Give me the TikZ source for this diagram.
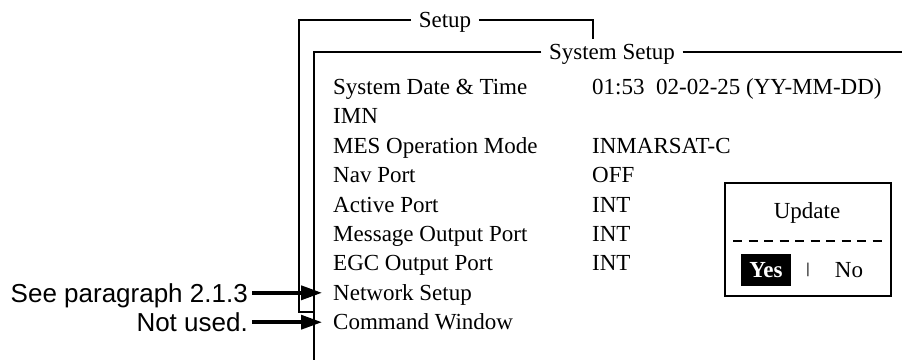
\documentclass[tikz,border=0pt]{standalone}
\usepackage{fontspec}
\setmainfont{Liberation Serif}
\newfontfamily\notefont{Liberation Sans}
\usepackage{tikz}
\usetikzlibrary{positioning, arrows.meta}

\begin{document}
\begin{tikzpicture}[
    x=1pt, y=-1pt,
    frame/.style={line width=1.3pt},
    title/.style={inner xsep=7.5pt, inner ysep=0pt, text height=15pt, text depth=0pt, font=\fontsize{23}{27}\selectfont},
    item/.style={anchor=west, inner sep=0pt, text height=15pt, text depth=0pt, font=\fontsize{23}{27}\selectfont},
    note/.style={inner xsep=4pt, inner ysep=0pt, text height=18.6pt, text depth=0pt, font=\notefont\fontsize{26}{30}\selectfont},
    pointer/.style={-{Triangle[length=21pt, width=14pt]}, line width=3.5pt, shorten >=11pt},
    popup/.style={draw, line width=1.5pt, minimum width=166pt, minimum height=113pt}
]
\useasboundingbox (0,0) rectangle (902,360);

% Setup frame
\node[title] (setup) at (445,20) {Setup};
\coordinate (setupbl) at (299,312);
\coordinate (setupbr) at (313,312);
\coordinate (setupr) at (593,39);
\draw[frame] (setup.west) -| (setupbl) -- (setupbr);
\draw[frame] (setup.east) -| (setupr);

% System Setup frame
\node[title] (syssetup) at (612,52) {System Setup};
\coordinate (sysbl) at (314,360);
\coordinate (sysr) at (902,52);
\draw[frame] (syssetup.west) -| (sysbl);
\draw[frame] (syssetup.east) -- (sysr);

% Menu items
\node[item] (sysdate) at (333,87) {System Date \& Time};
\node[item, below=14pt of sysdate.south west, anchor=north west] (imn) {IMN};
\node[item, below=14pt of imn.south west, anchor=north west] (mesmode) {MES Operation Mode};
\node[item, below=14pt of mesmode.south west, anchor=north west] (navport) {Nav Port};
\node[item, below=14pt of navport.south west, anchor=north west] (actport) {Active Port};
\node[item, below=14pt of actport.south west, anchor=north west] (msgport) {Message Output Port};
\node[item, below=14pt of msgport.south west, anchor=north west] (egcport) {EGC Output Port};
\node[item, below=14pt of egcport.south west, anchor=north west] (netset) {Network Setup};
\node[item, below=14pt of netset.south west, anchor=north west] (cmdwin) {Command Window};

% Settings
\coordinate (valcol) at (592,0);
\node[item] (datev) at (valcol |- sysdate) {01:53~~02-02-25 (YY-MM-DD)};
\node[item] (mesv) at (valcol |- mesmode) {INMARSAT-C};
\node[item] (navv) at (valcol |- navport) {OFF};
\node[item] (actv) at (valcol |- actport) {INT};
\node[item] (msgv) at (valcol |- msgport) {INT};
\node[item] (egcv) at (valcol |- egcport) {INT};

% Notes and arrows
\node[note, left=81pt of netset] (seepara) {See paragraph 2.1.3};
\node[note, left=81pt of cmdwin] (notused) {Not used.};
\draw[pointer] (seepara) -- (netset);
\draw[pointer] (notused) -- (cmdwin);

% Update window
\node[popup] (update) at (808,239.5) {};
\node[item, anchor=center] (updtitle) at (807,211) {Update};
\coordinate (dashl) at (733,241);
\coordinate (dashr) at (882,241);
\draw[line width=1.3pt, dash pattern=on 9pt off 6.5pt] (dashl) -- (dashr);
\node[item, anchor=center, fill=black, text=white, font=\bfseries\fontsize{23}{27}\selectfont,
      minimum width=50pt, minimum height=32pt] (yes) at (766,270) {Yes};
\node[font=\bfseries\fontsize{15}{17}\selectfont, inner sep=0pt] (bar) at (808,270) {|};
\node[item, anchor=center] (no) at (849,270) {No};

\end{tikzpicture}
\end{document}
